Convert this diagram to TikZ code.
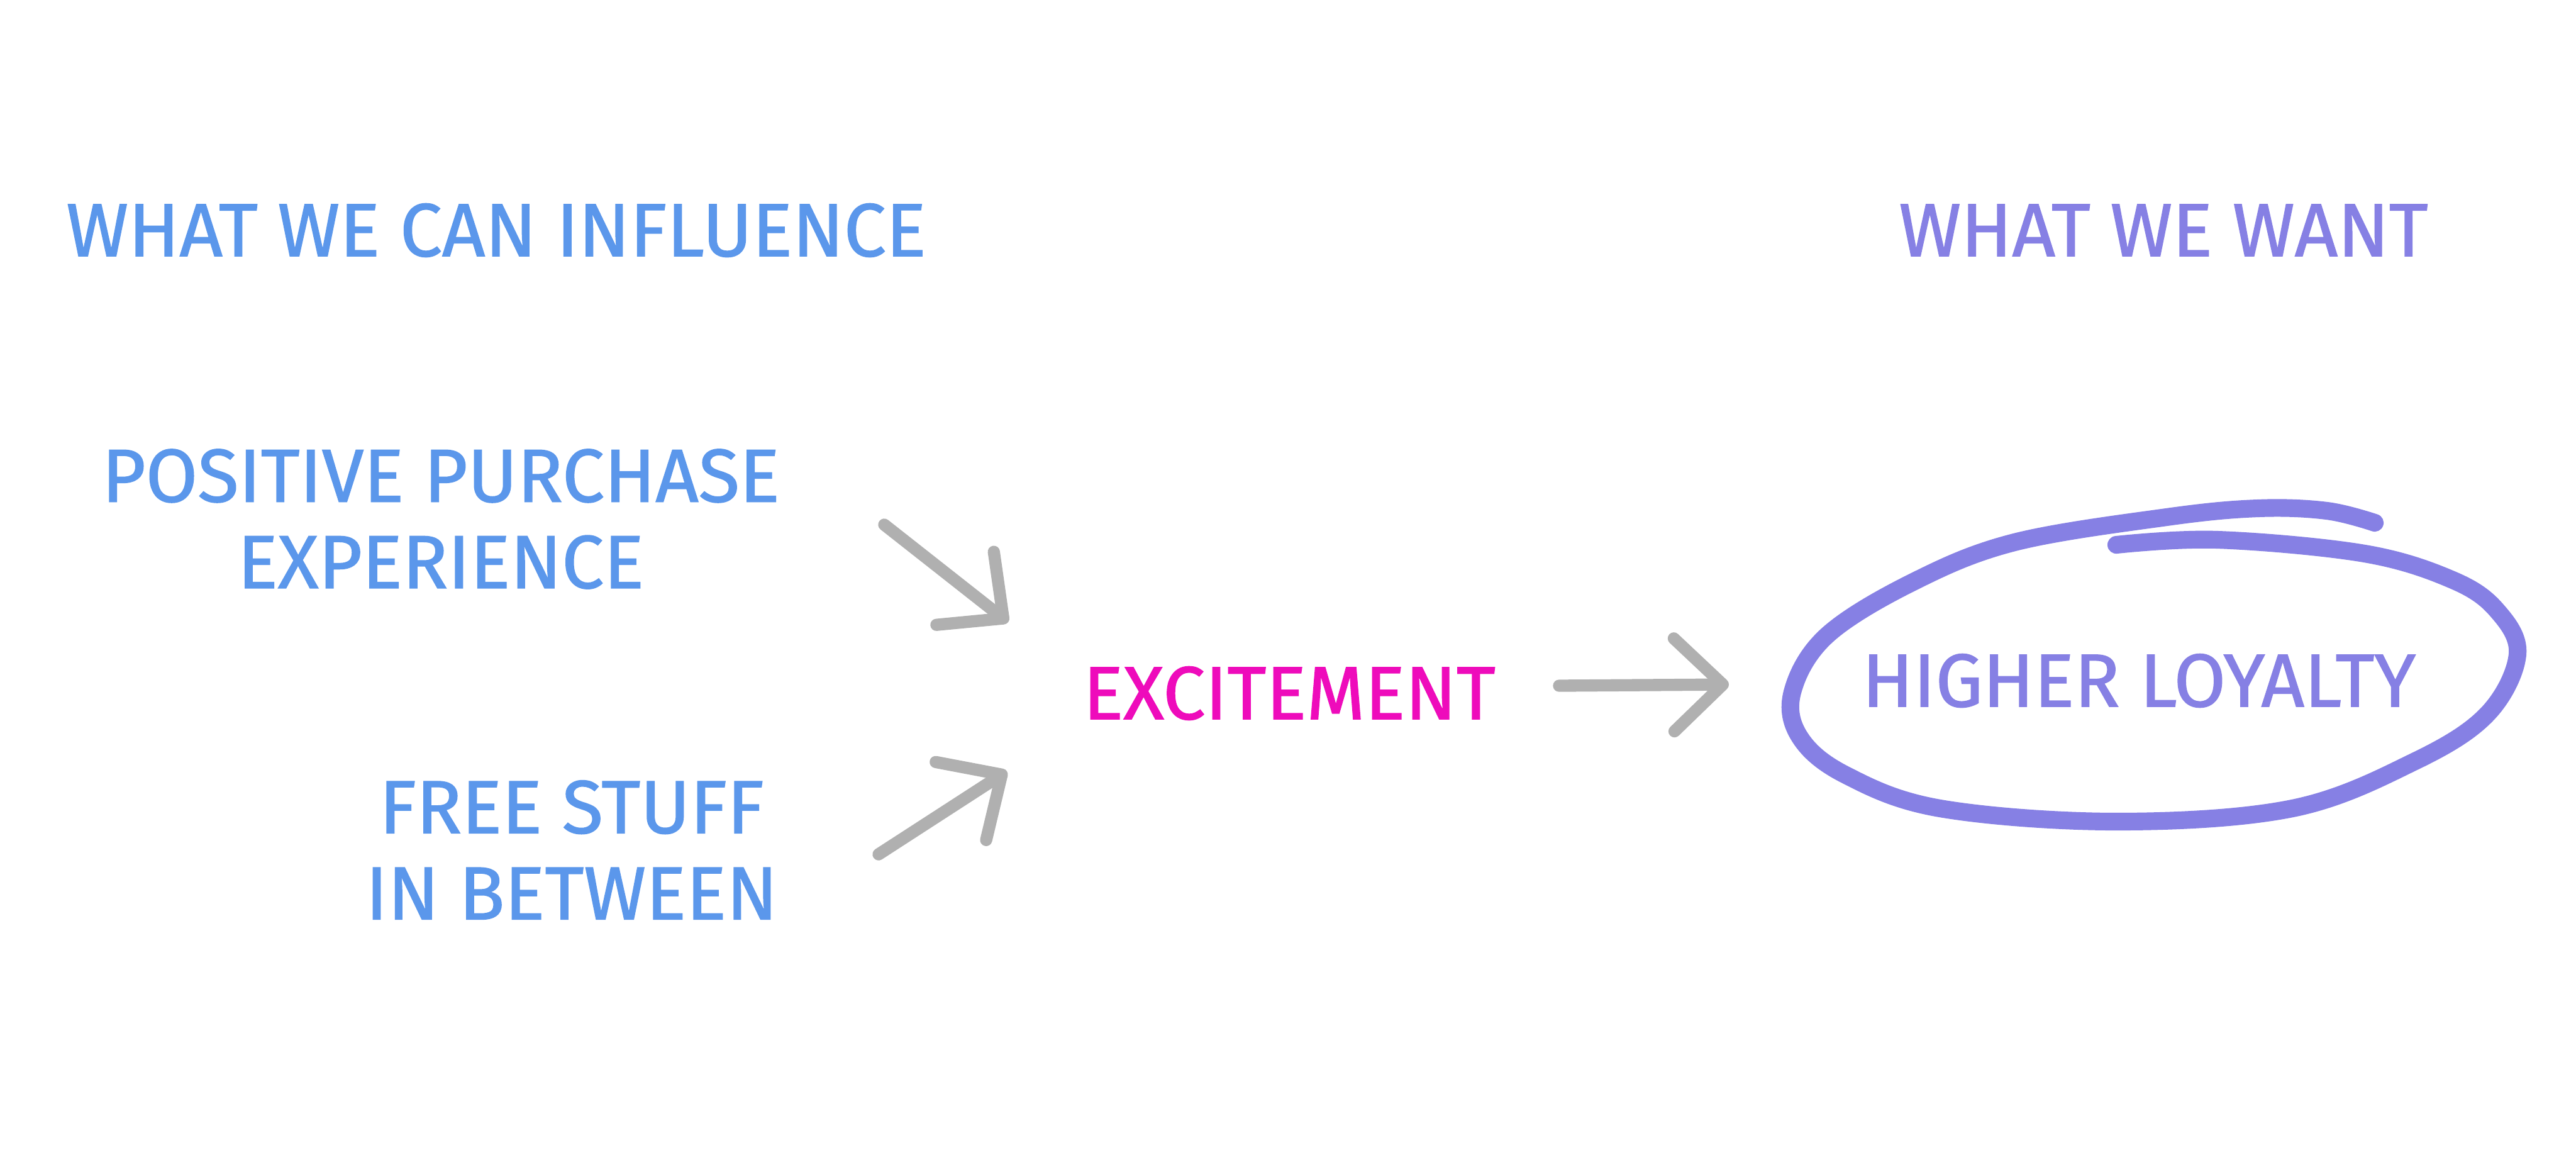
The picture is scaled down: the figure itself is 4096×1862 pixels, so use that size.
\documentclass[tikz,border=0pt]{standalone}
\usepackage{fontspec}
\setmainfont{Fira Sans}[FakeBold=1.2]
\usetikzlibrary{arrows.meta}
\definecolor{cblue}{HTML}{5B97EB}
\definecolor{cpurple}{HTML}{8680E4}
\definecolor{cmag}{HTML}{EE0BBB}
\definecolor{cgray}{HTML}{B0B0B0}
\tikzset{
  lbl/.style={font=\fontsize{34}{39}\selectfont, inner sep=0pt, align=center},
  conn/.style={draw=cgray, line width=5.5pt, line cap=round,
    -{Straight Barb[round, length=22pt, width=42pt]}},
}
\begin{document}
\begin{tikzpicture}[x=0.01cm, y=-0.01cm]
\useasboundingbox[fill=white] (0,0) rectangle (4096,1862);
\node[lbl, text=cblue] (inf) at (789,366) {WHAT WE CAN INFLUENCE};
\node[lbl, text=cpurple] (want) at (3440,366) {WHAT WE WANT};
\node[lbl, text=cblue] (pos) at (701,825) {POSITIVE PURCHASE\\EXPERIENCE};
\node[lbl, text=cblue] (free) at (909,1351) {FREE STUFF\\IN BETWEEN};
\node[lbl, text=cmag] (exc) at (2050,1102) {EXCITEMENT};
\node[lbl, text=cpurple] (loy) at (3401,1082) {HIGHER LOYALTY};
\coordinate (a1s) at (1406,834);
\coordinate (a1e) at (1603,989);
\coordinate (a2s) at (1397,1358);
\coordinate (a2e) at (1601,1226);
\coordinate (a3s) at (2479,1090);
\coordinate (a3e) at (2749,1088);
\draw[conn] (a1s) -- (a1e);
\draw[conn] (a2s) -- (a2e);
\draw[conn] (a3s) -- (a3e);
\draw[cpurple, line width=8pt, line cap=round, line join=round]
  plot[smooth, tension=0.6] coordinates {
  (3776,831) (3700,812) (3590,808) (3445,822) (3203,862) (3042,925)
  (2905,1010) (2850,1100) (2862,1172) (2935,1232) (3085,1285) (3365,1306)
  (3645,1285) (3840,1210) (3955,1135) (4003,1040) (3970,970) (3900,922)
  (3760,880) (3526,858) (3365,866)};
\end{tikzpicture}
\end{document}
